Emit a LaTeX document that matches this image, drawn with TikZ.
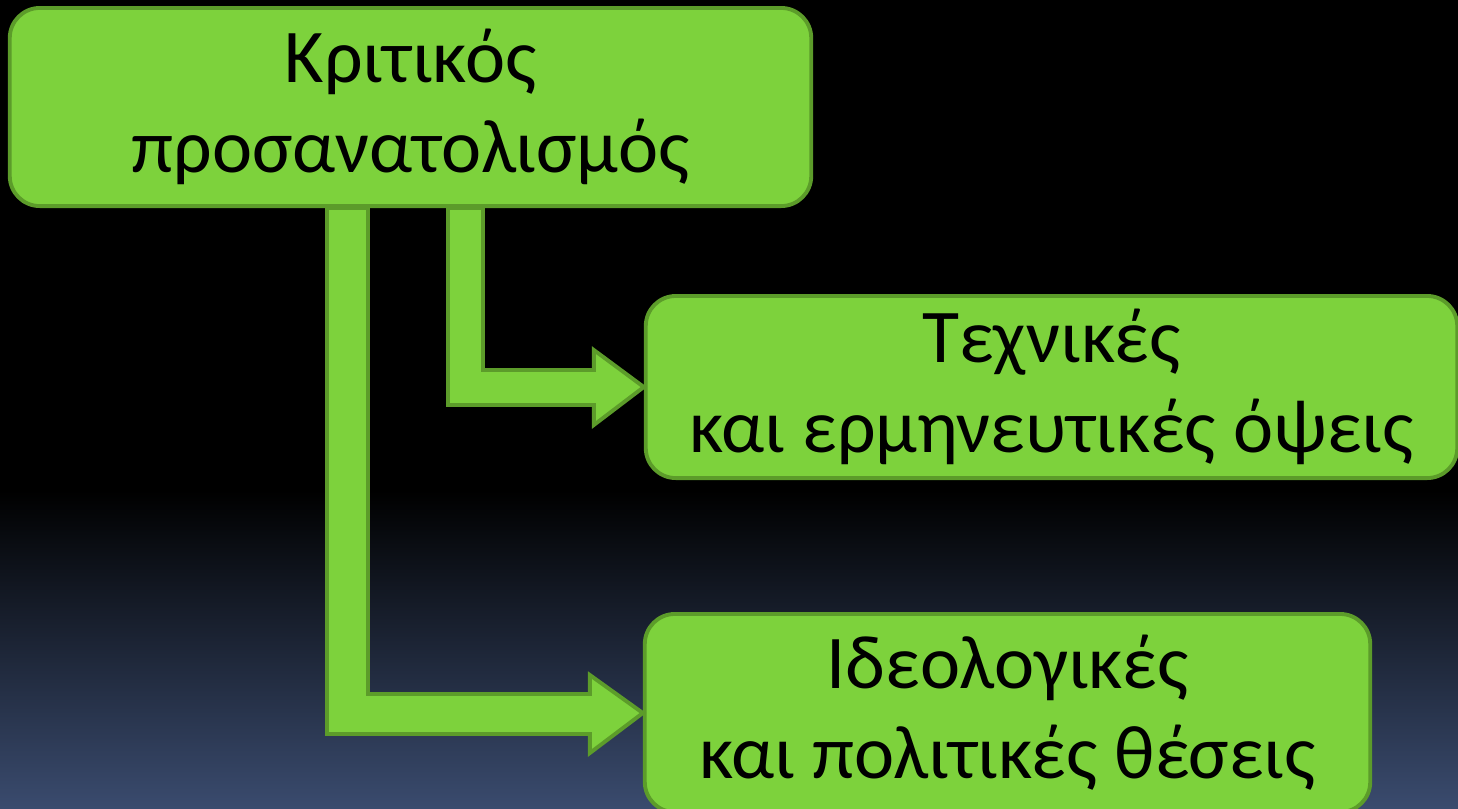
\documentclass[tikz,border=0pt]{standalone}
\usepackage{fontspec}
\setmainfont{Carlito}
\usetikzlibrary{calc}
\definecolor{boxgreen}{RGB}{125,210,60}
\definecolor{boxedge}{RGB}{92,156,42}
\definecolor{bgblue}{RGB}{58,75,110}
\tikzset{
  greenbox/.style={draw=boxedge,fill=boxgreen,line width=1.1pt,rounded corners=0.3cm,
    align=center,inner sep=0pt,font=\fontsize{21.6}{25.6}\selectfont},
  blockarrow/.style={draw=boxedge,fill=boxgreen,line width=1.1pt}
}
\begin{document}
\begin{tikzpicture}[x=0.01cm,y=-0.01cm]
\useasboundingbox (0,0) rectangle (1458,808);
\clip (0,0) rectangle (1458,808);
%background
\fill[black] (0,0) rectangle (1458,808);
\shade[top color=black,bottom color=bgblue] (0,490) rectangle (1458,808);
%boxes
\path (410.5,107) node[greenbox,minimum width=8.01cm,minimum height=1.98cm](crit){Κριτικός\\προσανατολισμός};
\path (1051.5,387) node[greenbox,minimum width=8.11cm,minimum height=1.82cm](tech){Τεχνικές\\και ερμηνευτικές όψεις};
\path (1007.5,713) node[greenbox,minimum width=7.25cm,minimum height=1.98cm](ideo){Ιδεολογικές\\και πολιτικές θέσεις};
%arrows
\draw[blockarrow]($(crit.south)+(37.5,0)$)|-($(tech.west)+(-50,18)$)--++(0,20)--(tech.west)
  --($(tech.west)+(-50,-37)$)--++(0,20)-|($(crit.south)+(72.5,0)$)--cycle;
\draw[blockarrow]($(crit.south)+(-83.5,0)$)|-($(ideo.west)+(-53,21)$)--++(0,19)--(ideo.west)
  --($(ideo.west)+(-53,-38)$)--++(0,19)-|($(crit.south)+(-42.5,0)$)--cycle;
\end{tikzpicture}
\end{document}
